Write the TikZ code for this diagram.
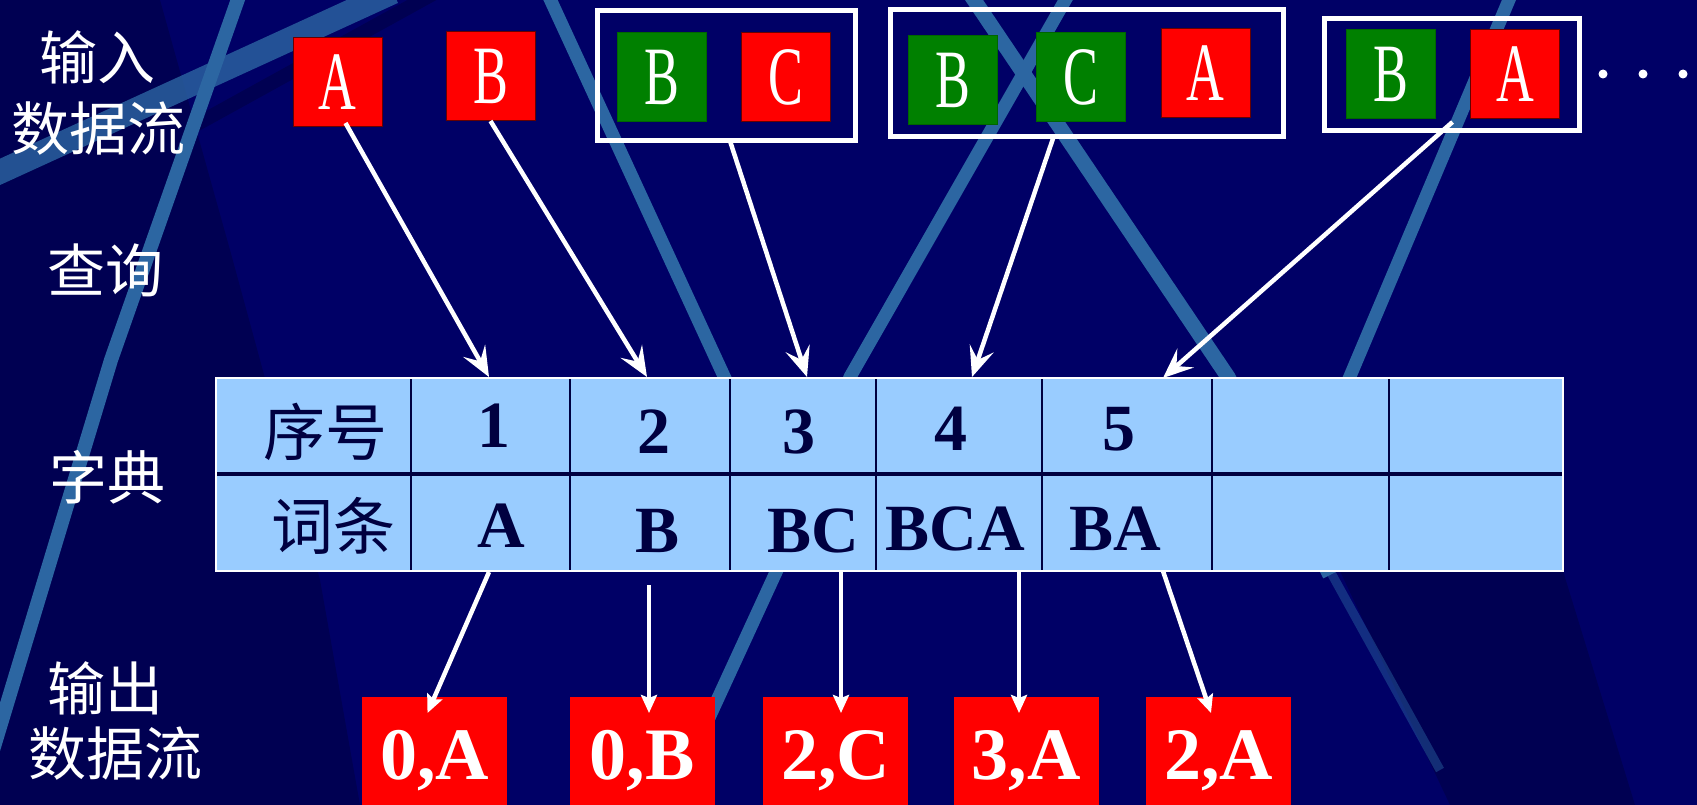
\documentclass[tikz,border=0pt]{standalone}
\usepackage{fontspec}
\setmainfont{Liberation Serif}
\newfontfamily\cjk{Noto Sans CJK SC}
\usepackage{graphicx}
\usetikzlibrary{arrows.meta}
\definecolor{bgblue}{HTML}{000066}
\definecolor{bgdark}{HTML}{000052}
\definecolor{stripe}{HTML}{2C66A2}
\definecolor{cellblue}{HTML}{99CCFF}
\definecolor{ink}{HTML}{000040}
\definecolor{boxred}{HTML}{FF0000}
\definecolor{boxgreen}{HTML}{008000}
\newcommand{\narrowtxt}[1]{\scalebox{0.63}[1]{#1}}
\begin{document}
\begin{tikzpicture}[x=1pt,y=-1pt,
  lbl/.style={text=white, font=\cjk\fontsize{58}{58}\selectfont, inner sep=0},
  inbox/.style={line width=1pt, minimum width=89pt, minimum height=89pt, inner sep=0, outer sep=0, text=white, font=\fontsize{83}{83}\selectfont},
  redbox/.style={inbox, fill=boxred, draw=black!60!red},
  greenbox/.style={inbox, fill=boxgreen, draw=black!60!green},
  groupbox/.style={draw=white, line width=5pt, inner sep=0, outer sep=0},
  outbox/.style={fill=boxred, minimum width=145pt, minimum height=108pt, inner sep=0, outer sep=0, text=white, text height=56pt, text depth=0pt, font=\bfseries\fontsize{74}{74}\selectfont},
  tablebox/.style={fill=cellblue, inner sep=0, outer sep=0, minimum width=1347pt, minimum height=193pt},
  tnum/.style={text=ink, font=\bfseries\fontsize{66}{66}\selectfont, inner sep=0, anchor=base},
  tcjk/.style={text=ink, font=\cjk\fontsize{62}{62}\selectfont, inner sep=0},
  dotnode/.style={circle, fill=white, minimum size=9pt, inner sep=0},
  inarrow/.style={draw=white, line width=4.5pt, -{Stealth[length=30pt,width=25pt,inset=12pt]}},
  outarrow/.style={draw=white, line width=4.5pt, -{Stealth[length=18pt,width=16pt,inset=3pt]}},
  stripeline/.style={draw=stripe, line width=13pt},
]
% background
\fill[bgblue] (0,0) rectangle (1697,805);
\useasboundingbox (0,0) rectangle (1697,805);
\fill[bgdark] (0,0) -- (160,0) -- (230,250) -- (320,580) -- (360,805) -- (0,805) -- cycle;
\fill[bgdark] (1340,571) -- (1563,571) -- (1635,805) -- (1450,805) -- cycle;
% stripes
\draw[bgdark, line width=14pt] (150,150) -- (440,-10);
\draw[stripe, line width=24pt, opacity=0.8] (-20,181) -- (393,-8);
\draw[stripeline, line width=14pt] (250,-35) -- (111,360) -- (0,727) -- (-10,760);
\draw[stripeline] (545,-12) -- (735,400);
\draw[stripeline, line width=15pt] (966,-12) -- (1228,377) -- (1330,575);
\draw[stripeline, line width=9pt, opacity=0.45] (1330,571) -- (1440,770);
\draw[stripeline] (1071,-10) -- (850,377) -- (777,570) -- (708,720);
\draw[stripeline] (1514,-12) -- (1340,400);
% labels
\node[lbl] (inlab1) at (97,57) {输入};
\node[lbl] (inlab2) at (98,129) {数据流};
\node[lbl] (query) at (105,270) {查询};
\node[lbl] (dict) at (107,477) {字典};
\node[lbl] (outlab1) at (105,688) {输出};
\node[lbl] (outlab2) at (115,754) {数据流};
% input stream
\node[redbox] (inA) at (337.5,82.5) {\narrowtxt{A}};
\node[redbox] (inB) at (490.5,76.5) {\narrowtxt{B}};
\node[groupbox, minimum width=258pt, minimum height=130pt] (g1) at (726,76) {};
\node[greenbox] (g1B) at (662,77) {\narrowtxt{B}};
\node[redbox] (g1C) at (785.5,77) {\narrowtxt{C}};
\node[groupbox, minimum width=393pt, minimum height=127pt] (g2) at (1086.5,73.5) {};
\node[greenbox] (g2B) at (952.5,80.5) {\narrowtxt{B}};
\node[greenbox] (g2C) at (1080.5,77) {\narrowtxt{C}};
\node[redbox] (g2A) at (1205.5,73) {\narrowtxt{A}};
\node[groupbox, minimum width=255pt, minimum height=112pt] (g3) at (1451.5,75) {};
\node[greenbox] (g3B) at (1390.5,74) {\narrowtxt{B}};
\node[redbox] (g3A) at (1515,74.5) {\narrowtxt{A}};
\node[dotnode] (d1) at (1603,74) {};
\node[dotnode] (d2) at (1643,74) {};
\node[dotnode] (d3) at (1683,74) {};
% dictionary table
\node[tablebox] (tbl) at (889.5,474.5) {};
\foreach \xx in {570,730,876,1042,1212,1389} \draw[ink, line width=1.3pt] (\xx,378) -- (\xx,571);
\draw[ink, line width=2.5pt] (411,378) -- (411,571);
\draw[ink, line width=3.5pt] (216,474) -- (1563,474);
\draw[white, line width=2.5pt] (tbl.north west) rectangle (tbl.south east);
\node[tcjk] (hnum) at (325,432) {序号};
\node[tcjk] (hword) at (333,526) {词条};
\node[tnum] (n1) at (494,447) {1};
\node[tnum] (n2) at (654,453) {2};
\node[tnum] (n3) at (799,453) {3};
\node[tnum] (n4) at (951,450) {4};
\node[tnum] (n5) at (1119,450) {5};
\node[tnum] (w1) at (501,547) {A};
\node[tnum] (w2) at (658,552) {B};
\node[tnum] (w3) at (813,552) {BC};
\node[tnum] (w4) at (955,550) {BCA};
\node[tnum] (w5) at (1115,550) {BA};
% lookup arrows
\coordinate (t1) at (489,377);
\coordinate (t2) at (647,377);
\coordinate (t3) at (807,377);
\coordinate (t4) at (972,377);
\coordinate (t5) at (1163,378);
\draw[inarrow] ([xshift=8pt,yshift=4pt]inA.south) -- (t1);
\draw[inarrow] (inB.south) -- (t2);
\draw[inarrow] ([xshift=4pt]g1.south) -- (t3);
\draw[inarrow] ([xshift=-33pt]g2.south) -- (t4);
\draw[inarrow] ([xshift=-18pt,yshift=-3pt]g3A.south west) -- (t5);
% output stream
\node[outbox] (oA) at (434.5,751) {0,A};
\node[outbox] (oB) at (642,751) {0,B};
\node[outbox] (oC) at (835.5,751) {2,C};
\node[outbox] (oD) at (1026,751) {3,A};
\node[outbox] (oE) at (1218.5,751) {2,A};
\coordinate (s1) at (489,572);
\coordinate (s2) at (649,585);
\coordinate (s3) at (841,571);
\coordinate (s4) at (1019,571);
\coordinate (s5) at (1163,571);
\draw[outarrow] (s1) -- ([xshift=-7pt,yshift=-16pt]oA.north);
\draw[outarrow] (s2) -- ([xshift=7pt,yshift=-16pt]oB.north);
\draw[outarrow] (s3) -- ([xshift=5.5pt,yshift=-16pt]oC.north);
\draw[outarrow] (s4) -- ([xshift=-7pt,yshift=-16pt]oD.north);
\draw[outarrow] (s5) -- ([xshift=-7.5pt,yshift=-16pt]oE.north);
\end{tikzpicture}
\end{document}
